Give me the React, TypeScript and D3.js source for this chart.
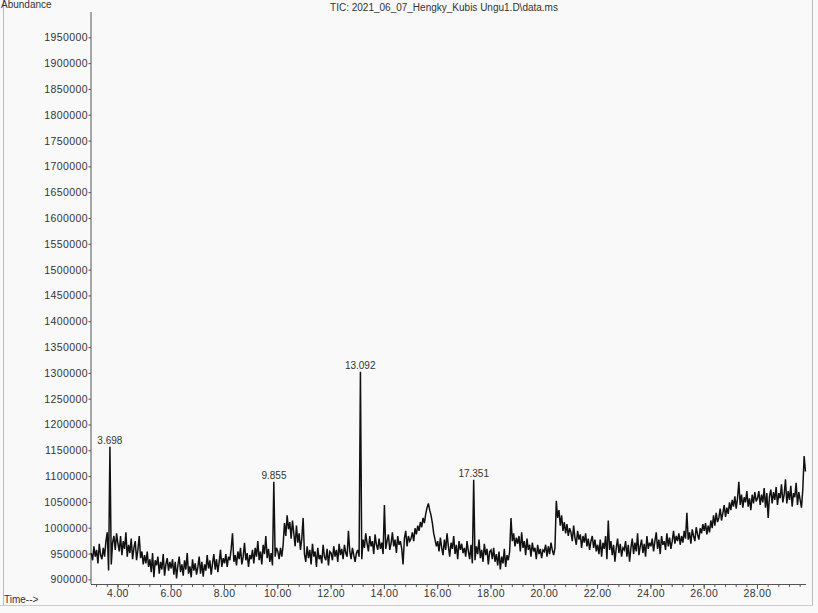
import React from "react";
import * as d3 from "d3";

const titleText = "TIC: 2021_06_07_Hengky_Kubis Ungu1.D\\data.ms";
const yAxisLabel = "Abundance";
const xAxisLabel = "Time-->";

const timeStart = 3.0;
const timeStep = 0.05;

// abundance in thousands, one row per minute (3.00 .. 29.80)
const abundanceK: number[] = [
  // 3
  952, 938, 965, 945, 958, 932, 970, 948, 940, 962, 945, 975, 992, 918, 1158, 930, 972, 985, 958, 990,
  // 4
  970, 955, 985, 948, 975, 960, 992, 945, 968, 952, 980, 940, 962, 975, 938, 958, 985, 942, 955, 930,
  // 5
  948, 932, 955, 925, 940, 915, 952, 905, 938, 928, 945, 912, 935, 920, 950, 908, 930, 942, 918, 935,
  // 6
  922, 940, 910, 935, 903, 928, 945, 915, 930, 908, 938, 920, 952, 912, 926, 905, 940, 918, 932, 910,
  // 7
  925, 945, 912, 935, 906, 930, 918, 948, 922, 938, 910, 932, 950, 920, 940, 915, 935, 958, 925, 942,
  // 8
  932, 950, 925, 945, 938, 960, 990, 935, 948, 928, 955, 940, 962, 930, 945, 972, 938, 952, 925, 948,
  // 9
  940, 958, 932, 962, 945, 975, 938, 955, 930, 968, 950, 985, 942, 960, 935, 952, 928, 1090, 945, 962,
  // 10
  955, 940, 962, 945, 968, 1010, 985, 1025, 998, 1012, 980, 1015, 990, 965, 1005, 972, 990, 958, 980, 1020,
  // 11
  950, 935, 965, 942, 958, 930, 970, 945, 955, 925, 962, 940, 948, 932, 968, 945, 938, 960, 928, 955,
  // 12
  952, 938, 965, 945, 958, 935, 970, 948, 960, 940, 968, 952, 945, 995, 955, 940, 962, 948, 935, 952,
  // 13
  958, 945, 1303, 940, 978, 962, 990, 970, 955, 985, 965, 975, 950, 988, 968, 958, 980, 960, 972, 950,
  // 14
  1045, 960, 975, 988, 958, 970, 992, 965, 978, 952, 985, 968, 975, 960, 930, 980, 995, 965, 985, 975,
  // 15
  980, 992, 975, 1000, 988, 1005, 995, 1012, 1002, 1020, 1010, 1028, 1040, 1048, 1035, 1025, 1010, 990, 978, 965,
  // 16
  975, 955, 982, 962, 948, 978, 958, 990, 965, 945, 972, 960, 985, 950, 968, 940, 975, 958, 970, 952,
  // 17
  962, 945, 975, 955, 940, 968, 932, 1094, 938, 965, 950, 978, 942, 958, 935, 970, 948, 960, 930, 955,
  // 18
  958, 940, 962, 935, 950, 928, 955, 920, 945, 932, 960, 925, 948, 938, 955, 1020, 975, 990, 965, 982,
  // 19
  970, 985, 955, 992, 962, 975, 948, 980, 958, 968, 945, 972, 955, 962, 940, 968, 950, 960, 942, 958,
  // 20
  955, 968, 945, 965, 950, 972, 958, 948, 962, 1053, 1020, 1035, 1005, 1025, 995, 1012, 990, 1008, 985, 1000,
  // 21
  992, 975, 1005, 982, 968, 995, 978, 988, 962, 985, 972, 990, 965, 980, 958, 975, 985, 962, 978, 955,
  // 22
  968, 950, 978, 945, 972, 960, 985, 940, 1015, 958, 975, 948, 968, 935, 962, 980, 952, 970, 945, 962,
  // 23
  958, 975, 945, 968, 935, 962, 980, 950, 972, 955, 990, 948, 965, 978, 952, 970, 945, 985, 960, 972,
  // 24
  965, 980, 955, 975, 992, 960, 978, 950, 985, 968, 975, 958, 990, 965, 982, 960, 975, 995, 970, 985,
  // 25
  975, 990, 968, 985, 972, 995, 980, 1030, 978, 992, 970, 998, 985, 975, 1002, 988, 978, 1000, 990, 1008,
  // 26
  995, 1010, 988, 1005, 992, 1015, 1000, 1025, 1005, 1030, 1012, 1020, 1038, 1015, 1030, 1045, 1022, 1040, 1028, 1050,
  // 27
  1035, 1055, 1042, 1062, 1038, 1058, 1090, 1045, 1065, 1040, 1060, 1050, 1072, 1042, 1058, 1035, 1065, 1048, 1070, 1052,
  // 28
  1058, 1072, 1045, 1065, 1050, 1078, 1040, 1068, 1020, 1062, 1075, 1048, 1070, 1055, 1080, 1045, 1068, 1058, 1085, 1050,
  // 29
  1065, 1095, 1048, 1072, 1055, 1082, 1042, 1068, 1060, 1088, 1045, 1070, 1055, 1040, 1075, 1140, 1110,
];

const peakTimes = [3.698, 9.855, 13.092, 17.351];
const peakHeightsK = [1158, 1090, 1303, 1094];

const yTicks = [900000, 950000, 1000000, 1050000, 1100000, 1150000, 1200000, 1250000, 1300000, 1350000, 1400000, 1450000, 1500000, 1550000, 1600000, 1650000, 1700000, 1750000, 1800000, 1850000, 1900000, 1950000];
const xTicks = [4, 6, 8, 10, 12, 14, 16, 18, 20, 22, 24, 26, 28];
const xMinorTicks = d3.range(3.2, 29.7, 0.4);

const W = 818;
const H = 613;
const FONT = "'Liberation Sans', Arial, sans-serif";

export default function App() {
  const x = d3.scaleLinear().domain([2.99, 29.82]).range([91, 806]);
  const y = d3.scaleLinear().domain([892000, 2000000]).range([584, 12]);

  const pts: [number, number][] = abundanceK.map((v, i) => [timeStart + i * timeStep, v * 1000]);
  const line = d3
    .line<[number, number]>()
    .x((d) => x(d[0]))
    .y((d) => y(d[1]));

  const axisColor = "#555";
  const textColor = "#333";

  return (
    <svg
      width={W}
      height={H}
      style={{ position: "absolute", left: 0, top: 0, background: "#f9f9f9" }}
      fontFamily={FONT}
    >
      {/* frame */}
      <line x1={3.5} y1={0} x2={3.5} y2={605} stroke="#bbb" strokeWidth={1} />
      <line x1={0} y1={605.5} x2={813} y2={605.5} stroke="#ccc" strokeWidth={1} />
      <line x1={812.5} y1={0} x2={812.5} y2={605} stroke="#bbb" strokeWidth={1} />

      <text x={444} y={11} fontSize={10} textAnchor="middle" fill={textColor}>
        {titleText}
      </text>
      <text x={1} y={8} fontSize={10} fill={textColor}>
        {yAxisLabel}
      </text>
      <text x={4} y={603} fontSize={10} fill={textColor}>
        {xAxisLabel}
      </text>

      {/* y axis */}
      <line x1={91} y1={12} x2={91} y2={584} stroke={axisColor} strokeWidth={1} />
      {yTicks.map((t) => (
        <g key={t}>
          <line x1={88.5} x2={91} y1={y(t)} y2={y(t)} stroke={axisColor} />
          <text x={88} y={y(t) + 3.5} fontSize={10.5} letterSpacing={0.4} textAnchor="end" fill={textColor}>
            {String(t)}
          </text>
        </g>
      ))}

      {/* x axis */}
      <line x1={91} y1={584.5} x2={806} y2={584.5} stroke={axisColor} strokeWidth={1} />
      {xMinorTicks.map((t) => (
        <line key={"m" + t} x1={x(t)} x2={x(t)} y1={584.5} y2={587} stroke={axisColor} />
      ))}
      {xTicks.map((t) => (
        <g key={t}>
          <line x1={x(t)} x2={x(t)} y1={584.5} y2={589} stroke={axisColor} />
          <text x={x(t)} y={597} fontSize={10.5} letterSpacing={0.3} textAnchor="middle" fill={textColor}>
            {t.toFixed(2)}
          </text>
        </g>
      ))}

      {/* chromatogram */}
      <path d={line(pts) || ""} fill="none" stroke="#111" strokeWidth={1.5} strokeLinejoin="miter" strokeMiterlimit={3} />

      {/* peak labels */}
      {peakTimes.map((t, i) => (
        <text
          key={t}
          x={x(t)}
          y={y(peakHeightsK[i] * 1000) - 3}
          fontSize={10}
          textAnchor="middle"
          fill={textColor}
        >
          {t.toFixed(3)}
        </text>
      ))}
    </svg>
  );
}
